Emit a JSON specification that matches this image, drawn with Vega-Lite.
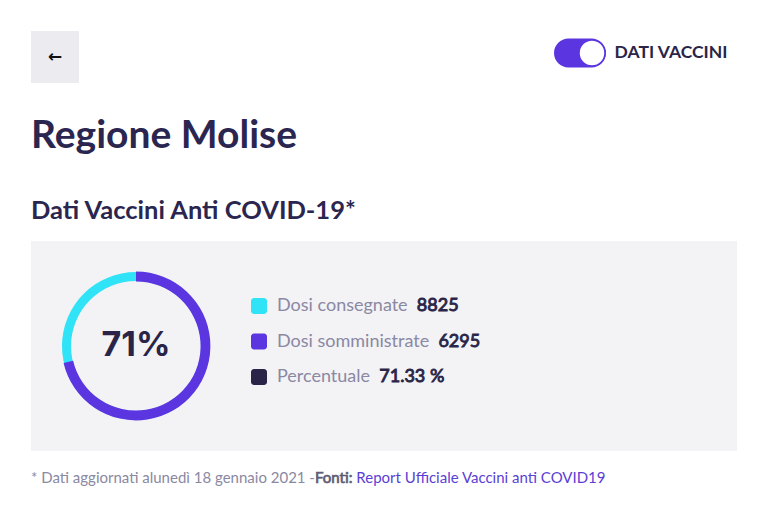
{
  "$schema": "https://vega.github.io/schema/vega-lite/v6.json",
  "background": "white",
  "padding": {"left": 31, "top": 31, "right": 30, "bottom": 0},
  "autosize": {"type": "pad"},
  "config": {
    "view": {"stroke": null},
    "font": "Lato",
    "text": {"font": "Lato"}
  },
  "datasets": {
    "vaccini": [
      {"serie": "Dosi consegnate", "valore": 8825, "unita": ""},
      {"serie": "Dosi somministrate", "valore": 6295, "unita": ""},
      {"serie": "Percentuale", "valore": 71.33, "unita": "%"}
    ]
  },
  "spacing": 33,
  "vconcat": [
    {
      "spacing": 474,
      "hconcat": [
        {
          "width": 48,
          "height": 52,
          "view": {"fill": "#ececf0", "stroke": null},
          "data": {"values": [{"pulsante": "indietro"}]},
          "mark": {"type": "text", "text": "←", "font": "DejaVu Sans", "fontSize": 17, "fontWeight": "bold", "color": "#111111", "align": "center", "baseline": "middle"}
        },
        {
          "spacing": 6,
          "hconcat": [
            {
              "width": 52,
              "height": 44,
              "data": {"values": [{"interruttore": "on"}]},
              "layer": [
                {
                  "mark": {"type": "point", "filled": true, "size": 2704, "opacity": 1, "color": "#5b36e0", "strokeWidth": 0,
                    "shape": "M-0.442,-0.558 L0.442,-0.558 A0.558,0.558 0 0 1 0.442,0.558 L-0.442,0.558 A0.558,0.558 0 0 1 -0.442,-0.558 Z"}
                },
                {
                  "mark": {"type": "point", "filled": true, "size": 2704, "opacity": 1, "fill": "#ffffff", "stroke": "#5b36e0", "strokeWidth": 1.5,
                    "shape": "M0.9615,0 A0.5,0.5 0 1 1 -0.0385,0 A0.5,0.5 0 1 1 0.9615,0 Z"}
                }
              ]
            },
            {
              "width": 112,
              "height": 44,
              "data": {"values": [{"etichetta": "DATI VACCINI"}]},
              "mark": {"type": "text", "text": "DATI VACCINI", "font": "Lato", "fontSize": 17.5, "fontWeight": "bold", "color": "#2a2548", "align": "center", "baseline": "middle"}
            }
          ]
        }
      ]
    },
    {
      "spacing": 20,
      "vconcat": [
        {
          "title": {
            "text": "Regione Molise",
            "subtitle": "Dati Vaccini Anti COVID-19*",
            "anchor": "start",
            "frame": "group",
            "font": "Lato",
            "fontSize": 39,
            "fontWeight": "bold",
            "color": "#2b2650",
            "subtitleFont": "Lato",
            "subtitleFontSize": 25.5,
            "subtitleFontWeight": "bold",
            "subtitleColor": "#2b2650",
            "subtitlePadding": 43,
            "offset": 17
          },
          "spacing": 0,
          "hconcat": [
            {
              "width": 210,
              "height": 210,
              "view": {"fill": "#f3f3f6", "stroke": null},
              "data": {"name": "vaccini"},
              "transform": [{"pivot": "serie", "value": "valore"}],
              "layer": [
                {
                  "mark": {"type": "arc", "innerRadius": 65, "outerRadius": 74, "color": "#30e3f7"},
                  "encoding": {
                    "theta": {"field": "Dosi consegnate", "type": "quantitative",
                      "scale": {"reverse": false, "zero": true}}
                  }
                },
                {
                  "mark": {"type": "arc", "innerRadius": 64.6, "outerRadius": 74.4, "color": "#5b36e0"},
                  "encoding": {
                    "theta": {"field": "Dosi somministrate", "type": "quantitative"}
                  }
                },
                {
                  "mark": {"type": "text", "font": "Inter", "fontSize": 34, "fontWeight": "bold", "color": "#2a2548", "align": "center", "baseline": "middle",
                    "text": {"expr": "format(datum['Percentuale'], '.0f') + '%'"}}
                }
              ]
            },
            {
              "width": 36,
              "height": 210,
              "view": {"fill": "#f3f3f6", "stroke": null},
              "data": {"name": "vaccini"},
              "mark": {"type": "point", "filled": true, "opacity": 1, "size": 256, "strokeWidth": 0,
                "shape": "M-0.625,-1 L0.625,-1 A0.375,0.375 0 0 1 1,-0.625 L1,0.625 A0.375,0.375 0 0 1 0.625,1 L-0.625,1 A0.375,0.375 0 0 1 -1,0.625 L-1,-0.625 A0.375,0.375 0 0 1 -0.625,-1 Z"},
              "encoding": {
                "y": {"field": "serie", "type": "nominal", "axis": null,
                  "scale": {"type": "point", "domain": ["Dosi consegnate", "Dosi somministrate", "Percentuale"], "range": [65, 136], "padding": 0}},
                "color": {"field": "serie", "type": "nominal", "legend": null,
                  "scale": {"domain": ["Dosi consegnate", "Dosi somministrate", "Percentuale"], "range": ["#30e3f7", "#5b36e0", "#2a2548"]}}
              }
            },
            {
              "width": 460,
              "height": 210,
              "view": {"fill": "#f3f3f6", "stroke": null},
              "data": {"name": "vaccini"},
              "encoding": {
                "x": {"value": 0},
                "y": {"field": "serie", "type": "nominal", "axis": null,
                  "scale": {"type": "point", "domain": ["Dosi consegnate", "Dosi somministrate", "Percentuale"], "range": [65, 136], "padding": 0}}
              },
              "layer": [
                {
                  "mark": {"type": "text", "align": "left", "baseline": "middle", "font": "Lato", "fontSize": 18,
                    "fill": "#2a2548", "stroke": "#2a2548", "strokeWidth": 0.9,
                    "text": {"expr": "datum.serie + '\u00a0\u00a0' + datum.valore + (datum.unita ? '\u00a0' + datum.unita : '')"}}
                },
                {
                  "mark": {"type": "text", "align": "left", "baseline": "middle", "font": "Lato", "fontSize": 18,
                    "fill": "#f3f3f6", "stroke": "#f3f3f6", "strokeWidth": 3,
                    "text": {"expr": "datum.serie"}}
                },
                {
                  "mark": {"type": "text", "align": "left", "baseline": "middle", "font": "Lato", "fontSize": 18,
                    "fill": "#8a88a2",
                    "text": {"expr": "datum.serie"}}
                }
              ]
            }
          ]
        },
        {
          "width": 706,
          "height": 20,
          "data": {"values": [{"nota": "fonti"}]},
          "encoding": {"x": {"value": 0}},
          "layer": [
            {
              "mark": {"type": "text", "align": "left", "baseline": "alphabetic", "font": "Lato", "fontSize": 15, "fill": "#5a3fd6",
                "text": "* Dati aggiornati alunedì 18 gennaio 2021 -Fonti: Report Ufficiale Vaccini anti COVID19"}
            },
            {
              "mark": {"type": "text", "align": "left", "baseline": "alphabetic", "font": "Lato", "fontSize": 15, "fill": "#ffffff", "stroke": "#ffffff", "strokeWidth": 3,
                "text": "* Dati aggiornati alunedì 18 gennaio 2021 -Fonti:"}
            },
            {
              "mark": {"type": "text", "align": "left", "baseline": "alphabetic", "font": "Lato", "fontSize": 15, "fill": "#5f5d72", "stroke": "#5f5d72", "strokeWidth": 0.7,
                "text": "* Dati aggiornati alunedì 18 gennaio 2021 -Fonti:"}
            },
            {
              "mark": {"type": "text", "align": "left", "baseline": "alphabetic", "font": "Lato", "fontSize": 15, "fill": "#ffffff", "stroke": "#ffffff", "strokeWidth": 3,
                "text": "* Dati aggiornati alunedì 18 gennaio 2021 -"}
            },
            {
              "mark": {"type": "text", "align": "left", "baseline": "alphabetic", "font": "Lato", "fontSize": 15, "fill": "#8a88a2",
                "text": "* Dati aggiornati alunedì 18 gennaio 2021 -"}
            }
          ]
        }
      ]
    }
  ]
}
